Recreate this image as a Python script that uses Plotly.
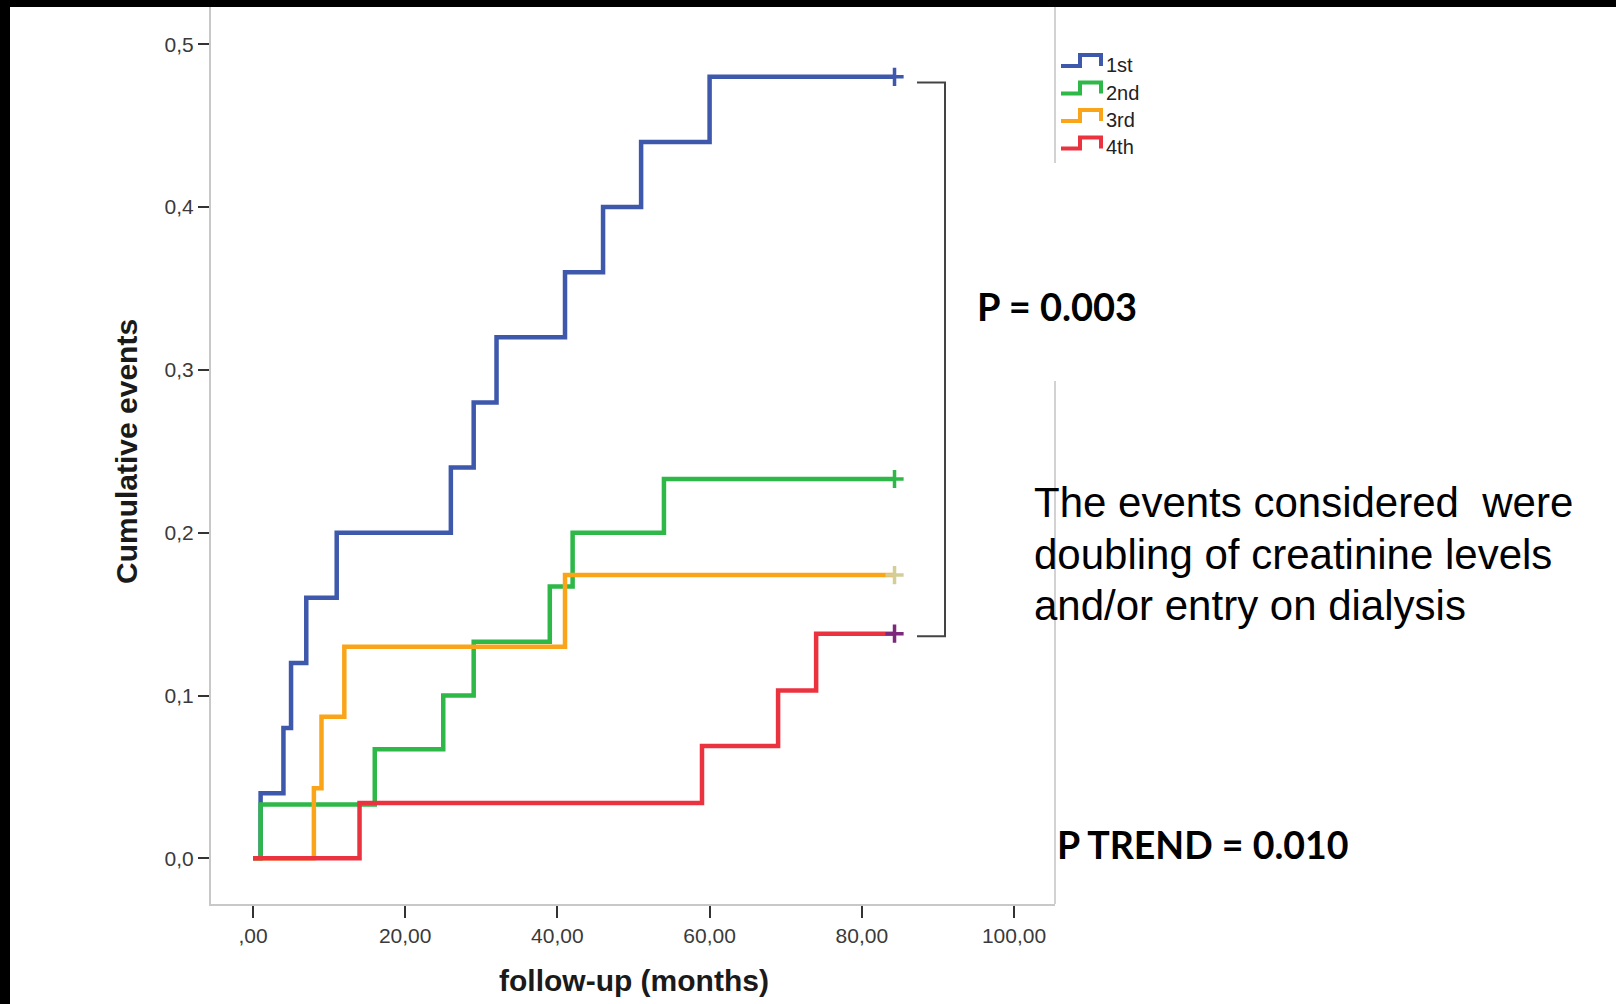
import plotly.graph_objects as go

# Kaplan-Meier style cumulative event curves by quartile
groups = ["1st", "2nd", "3rd", "4th"]

time_1st = [0, 1, 4, 5, 7, 11, 26, 29, 32, 41, 46, 51, 60, 84.3]
cum_1st = [0, 0.04, 0.08, 0.12, 0.16, 0.20, 0.24, 0.28, 0.32, 0.36, 0.40, 0.44, 0.48, 0.48]

time_2nd = [0, 1, 16, 25, 29, 39, 42, 54, 84.3]
cum_2nd = [0, 0.033, 0.067, 0.100, 0.133, 0.167, 0.200, 0.233, 0.233]

time_3rd = [0, 8, 9, 12, 41, 84.3]
cum_3rd = [0, 0.043, 0.087, 0.130, 0.174, 0.174]

time_4th = [0, 14, 59, 69, 74, 84.3]
cum_4th = [0, 0.034, 0.069, 0.103, 0.138, 0.138]

line_colors = ["#3E58AC", "#2EB848", "#FAA41A", "#EB3340"]
censor_colors = ["#3E58AC", "#2EB848", "#D3CE97", "#7C287D"]

x_tickvals = [0, 20, 40, 60, 80, 100]
x_ticktext = [",00", "20,00", "40,00", "60,00", "80,00", "100,00"]
y_tickvals = [0, 0.1, 0.2, 0.3, 0.4, 0.5]
y_ticktext = ["0,0", "0,1", "0,2", "0,3", "0,4", "0,5"]

p_overall = "P = 0.003"
p_trend = "P TREND = 0.010"
note_lines = ["The events considered \u00a0were",
              "doubling of creatinine levels",
              "and/or entry on dialysis"]

# ---- layout geometry (pixels) ----
W, H = 1616, 1004
L, R, T, B = 211, 1055, 7, 904


def px(xp):
    return (xp - L) / (R - L)


def py(yp):
    return (B - yp) / (B - T)


series = [(time_1st, cum_1st), (time_2nd, cum_2nd), (time_3rd, cum_3rd), (time_4th, cum_4th)]

fig = go.Figure()
for (t, c), name, col in zip(series, groups, line_colors):
    fig.add_trace(go.Scatter(x=t, y=c, mode="lines", name=name,
                             line=dict(color=col, width=4.5, shape="hv"),
                             showlegend=False, hoverinfo="x+y"))
# censoring marks at the end of follow-up
for (t, c), col in zip(series, censor_colors):
    fig.add_trace(go.Scatter(x=[t[-1]], y=[c[-1]], mode="markers",
                             marker=dict(symbol="cross-thin", size=13,
                                         line=dict(color=col, width=3.5)),
                             showlegend=False, hoverinfo="skip"))

shapes = []
# right frame edge (interrupted behind the p-value label)
for y0, y1 in [(T, 163), (381, B)]:
    shapes.append(dict(type="line", xref="paper", yref="paper",
                       x0=1, x1=1, y0=py(y0), y1=py(y1),
                       line=dict(color="#d2d2d2", width=2)))
# bracket joining the first and last quartile curves
bx0, bx1 = px(917), px(945)
by0, by1 = py(82.6), py(636.3)
shapes.append(dict(type="path", xref="paper", yref="paper",
                   path=f"M {bx0},{by0} L {bx1},{by0} L {bx1},{by1} L {bx0},{by1}",
                   line=dict(color="#444444", width=2)))

annotations = []
# legend with step-shaped keys
row_low = [66, 93.5, 121, 148.5]
for name, col, yl in zip(groups, line_colors, row_low):
    yh = yl - 11
    shapes.append(dict(type="path", xref="paper", yref="paper",
                       path=(f"M {px(1061)},{py(yl)} L {px(1080)},{py(yl)} "
                             f"L {px(1080)},{py(yh)} L {px(1101)},{py(yh)} "
                             f"L {px(1101)},{py(yl)}"),
                       line=dict(color=col, width=4)))
    annotations.append(dict(x=px(1104), y=py(yl - 1), xref="paper", yref="paper",
                            text=name, showarrow=False, xanchor="left", yanchor="middle",
                            font=dict(family="Liberation Sans, Arial", size=20, color="#222222")))

# black edge bands
shapes.append(dict(type="rect", xref="paper", yref="paper", layer="above",
                   x0=px(-5), x1=px(W + 5), y0=py(T), y1=py(-5),
                   fillcolor="black", line=dict(width=0)))
shapes.append(dict(type="rect", xref="paper", yref="paper", layer="above",
                   x0=px(-5), x1=px(10), y0=py(H + 5), y1=py(-5),
                   fillcolor="black", line=dict(width=0)))

# axis titles
annotations.append(dict(x=px(127), y=py(452), xref="paper", yref="paper",
                        text="Cumulative events", textangle=-90, showarrow=False,
                        xanchor="center", yanchor="middle",
                        font=dict(family="Liberation Sans, Arial", size=30,
                                  color="#1a1a1a", weight="bold")))
annotations.append(dict(x=px(634), y=py(980), xref="paper", yref="paper",
                        text="follow-up (months)", showarrow=False,
                        xanchor="center", yanchor="middle",
                        font=dict(family="Liberation Sans, Arial", size=30,
                                  color="#1a1a1a", weight="bold")))

# p-values
annotations.append(dict(x=px(975), y=py(306), xref="paper", yref="paper",
                        text=p_overall, showarrow=False, xanchor="left", yanchor="middle",
                        font=dict(family="Lato", size=38, color="black", weight="bold")))
annotations.append(dict(x=px(1055), y=py(844), xref="paper", yref="paper",
                        text=p_trend, showarrow=False, xanchor="left", yanchor="middle",
                        font=dict(family="Lato", size=37.5, color="black", weight="bold")))

# note on event definition
for i, line in enumerate(note_lines):
    annotations.append(dict(x=px(1032), y=py(503 + 51 * i), xref="paper", yref="paper",
                            text=line, showarrow=False, xanchor="left", yanchor="middle",
                            font=dict(family="Liberation Sans, Arial", size=42, color="black")))

x_lo = (L - 253) / 7.61
x_hi = (R - 253) / 7.61
y_lo = (858.3 - B) / 1628
y_hi = (858.3 - T) / 1628

fig.update_layout(
    width=W, height=H,
    margin=dict(l=L, r=W - R, t=T, b=H - B, pad=0),
    paper_bgcolor="white", plot_bgcolor="white",
    showlegend=False,
    shapes=shapes, annotations=annotations,
    xaxis=dict(range=[x_lo, x_hi], tickvals=x_tickvals, ticktext=x_ticktext,
               showgrid=False, zeroline=False, showline=True, linecolor="#c8c8c8",
               linewidth=2, ticks="outside", ticklen=12, tickwidth=2, tickcolor="#333333",
               tickfont=dict(family="Liberation Sans, Arial", size=21, color="#3a3a3a")),
    yaxis=dict(range=[y_lo, y_hi], tickvals=y_tickvals, ticktext=y_ticktext,
               showgrid=False, zeroline=False, showline=True, linecolor="#c8c8c8",
               linewidth=2, ticks="outside", ticklen=11, tickwidth=2, tickcolor="#333333",
               tickfont=dict(family="Liberation Sans, Arial", size=21, color="#3a3a3a")),
)

fig.write_html("out.html")
